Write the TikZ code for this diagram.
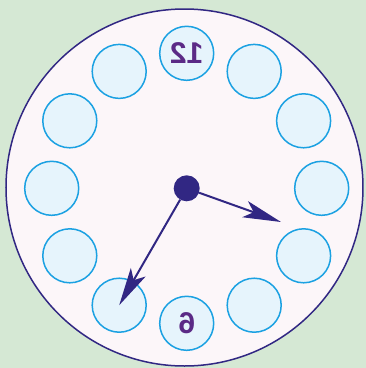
\documentclass[tikz,border=0pt]{standalone}
\usepackage{fontspec}
\usepackage{graphicx}
\setmainfont{Liberation Sans}
\usetikzlibrary{arrows.meta}
\definecolor{bggreen}{HTML}{D5E8D4}
\definecolor{facefill}{HTML}{FCF6F9}
\definecolor{facestroke}{HTML}{312783}
\definecolor{dotfill}{HTML}{312783}
\definecolor{hourfill}{HTML}{E6F4FC}
\definecolor{hourstroke}{HTML}{1BA1E2}
\definecolor{numcol}{HTML}{5B2A86}
\tikzset{
  face/.style={circle, draw=facestroke, fill=facefill, line width=1.5pt, minimum size=357pt, inner sep=0pt},
  hourbox/.style={circle, draw=hourstroke, fill=hourfill, line width=1.5pt, minimum size=54pt, inner sep=0pt,
    font=\fontsize{30}{30}\selectfont\bfseries, text=numcol},
  hub/.style={circle, fill=dotfill, minimum size=26pt, inner sep=0pt},
  hand/.style={draw=facestroke, line width=2pt, -{Stealth[length=38pt,width=17pt,inset=9pt]}}
}
\begin{document}
\begin{tikzpicture}[x=1pt,y=-1pt]
\fill[bggreen] (0,0) rectangle (366,368);
\useasboundingbox (0,0) rectangle (366,368);
\node[face] (dial) at (184.5,187.5) {};
\coordinate (C) at (186.7,188.3);
\node[hourbox] (h12) at ([shift={(-90:135)}]C) {\reflectbox{12}};
\node[hourbox] (h1) at ([shift={(-60:135)}]C) {};
\node[hourbox] (h2) at ([shift={(-30:135)}]C) {};
\node[hourbox] (h3) at ([shift={(0:135)}]C) {};
\node[hourbox] (h4) at ([shift={(30:135)}]C) {};
\node[hourbox] (h5) at ([shift={(60:135)}]C) {};
\node[hourbox] (h6) at ([shift={(90:135)}]C) {\reflectbox{6}};
\node[hourbox] (h7) at ([shift={(120:135)}]C) {};
\node[hourbox] (h8) at ([shift={(150:135)}]C) {};
\node[hourbox] (h9) at ([shift={(180:135)}]C) {};
\node[hourbox] (h10) at ([shift={(210:135)}]C) {};
\node[hourbox] (h11) at ([shift={(240:135)}]C) {};
\node[hub] (hub) at (C) {};
\coordinate (mintip) at (281,222);
\draw[hand] (hub) -- (mintip);
\draw[hand] (hub) -- (h7.center);
\end{tikzpicture}
\end{document}
